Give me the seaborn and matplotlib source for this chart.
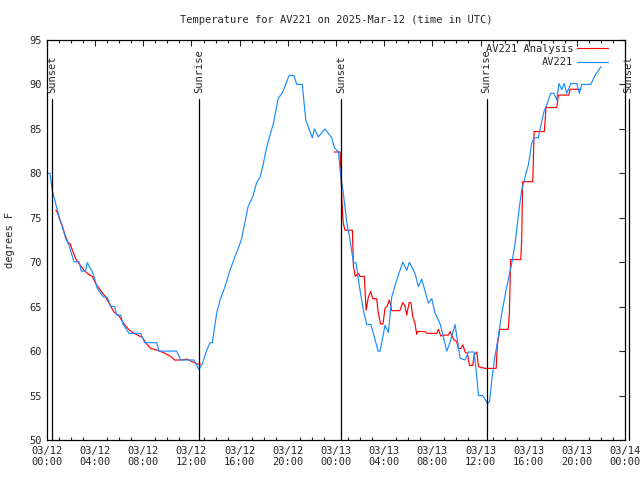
import matplotlib
matplotlib.use('Agg')
import matplotlib.pyplot as plt
import pandas as pd
import seaborn as sns

# hours since 2025-03-12 00:00 UTC
obs_hours = [0.0, 0.25, 0.44, 0.72, 1.08, 1.27, 1.55, 1.83, 2.24, 2.66, 2.85, 3.21, 3.35, 3.77, 3.9,
             4.18, 4.68, 5.0, 5.29, 5.62, 5.79, 6.12, 6.31, 6.81, 7.78, 8.11, 9.11, 9.3, 10.77, 11.1,
             12.2, 12.62, 12.9, 13.26, 13.54, 13.73, 14.09, 14.37, 14.78, 15.2, 15.6, 15.9, 16.17,
             16.7, 17.1, 17.4, 17.7, 17.97, 18.25, 18.8, 19.2, 19.6, 20.1, 20.5, 20.74, 21.2, 21.49,
             21.84, 22.04, 22.2, 22.53, 23.09, 23.64, 23.86, 24.2, 24.4, 24.6, 24.9, 25.17, 25.45,
             25.66, 25.99, 26.27, 26.55, 26.89, 27.1, 27.5, 27.66, 28.07, 28.35, 28.63, 29.04, 29.54,
             29.88, 30.09, 30.56, 30.84, 31.12, 31.67, 31.95, 32.23, 32.64, 33.2, 33.47, 33.89, 34.3,
             34.72, 35.0, 35.47, 35.69, 35.83, 36.19, 36.58, 36.75, 36.94, 37.2, 37.5, 37.76, 38.18,
             38.6, 38.87, 39.23, 39.42, 39.7, 39.98, 40.26, 40.45, 40.8, 41.08, 41.28, 41.5, 41.83,
             42.1, 42.33, 42.52, 42.75, 42.94, 43.16, 43.5, 43.99, 44.2, 44.4, 45.16, 45.5, 46.0]
obs_temp = [80.0, 80.0, 78.1, 76.6, 74.75, 74.0, 72.7, 71.9, 70.06, 70.06, 69.0, 69.0, 69.95, 68.9, 68.4,
            67.06, 66.1, 66.05, 65.07, 65.0, 64.06, 64.06, 63.05, 62.0, 62.0, 60.95, 60.95, 60.0, 60.0, 59.0,
            59.0, 57.95, 58.55, 60.1, 60.95, 60.95, 64.25, 65.75, 67.25, 69.1, 70.6, 71.6, 72.7,
            76.25, 77.4, 78.9, 79.6, 81.1, 83.0, 85.6, 88.4, 89.2, 91.0, 91.0, 90.0, 90.0, 86.0,
            84.7, 84.0, 85.0, 84.1, 85.0, 84.0, 82.9, 82.4, 79.6, 77.9, 74.4, 72.5, 69.9,
            69.95, 66.9, 64.6, 63.0, 63.0, 62.0, 60.0, 60.0, 62.9, 62.1, 66.1, 68.0, 70.0,
            69.1, 70.0, 68.75, 67.25, 68.1, 65.4, 65.9, 64.25, 63.1, 60.0, 61.0, 63.0, 59.2,
            59.0, 59.9, 59.9, 57.1, 55.0, 55.0, 54.1, 54.3, 56.8, 59.4, 61.8, 64.25, 67.25,
            69.9, 72.1, 76.25, 78.1, 79.6, 81.0, 83.4, 84.0, 84.0, 85.8, 87.0, 87.7, 89.0,
            89.0, 88.25, 90.1, 89.4, 90.1, 89.0, 90.1, 90.1, 89.0, 90.0, 90.0, 91.0, 92.0]

# analysis, first night
ana1_hours = [0.72, 0.8, 1.08, 1.27, 1.47, 1.74, 1.91, 2.1, 2.38, 2.8, 3.07, 3.49, 3.77, 4.04, 4.46,
              4.87, 5.15, 5.56, 5.98, 6.4, 6.81, 7.23, 7.92, 8.2, 8.61, 9.17, 9.72, 10.27, 10.6,
              11.1, 11.65, 12.07, 12.48, 12.76]
ana1_temp = [75.8, 75.8, 74.8, 74.1, 73.2, 72.2, 72.1, 71.4, 70.4, 69.6, 69.1, 68.6, 68.4, 67.6, 66.8,
             66.1, 65.4, 64.4, 63.95, 63.05, 62.4, 62.0, 61.55, 60.95, 60.3, 60.1, 59.8, 59.4, 59.0,
             59.0, 59.1, 58.8, 58.55, 58.55]
# analysis, second night and day
ana2_hours = [23.84, 24.34, 24.5, 24.6, 24.75, 25.36, 25.45, 25.6, 25.86, 26.0, 26.35, 26.5, 26.69,
              26.88, 27.05, 27.38, 27.5, 27.7, 27.9, 28.07, 28.26, 28.43, 28.63, 29.3, 29.54, 29.73,
              29.87, 30.07, 30.23, 30.37, 30.56, 30.7, 30.78, 31.4, 31.54, 32.37, 32.5, 32.7, 32.9,
              33.33, 33.47, 33.8, 34.03, 34.16, 34.35, 34.53, 34.72, 34.91, 35.08, 35.36, 35.47,
              35.69, 35.83, 36.38, 37.3, 37.4, 37.6, 38.3, 38.4, 38.5, 39.34, 39.42, 39.5, 40.34,
              40.45, 41.3, 41.44, 42.33, 42.47, 43.33, 43.44, 44.35]
ana2_temp = [82.4, 82.4, 76.8, 74.4, 73.6, 73.6, 69.5, 68.4, 68.75, 68.4, 68.4, 64.6, 66.1,
             66.7, 65.9, 65.9, 64.4, 63.05, 63.05, 64.8, 65.1, 65.75, 64.55, 64.55, 65.45, 65.07,
             64.06, 65.45, 65.45, 63.9, 63.1, 61.9, 62.2, 62.2, 62.0, 62.0, 62.45, 61.7, 61.8,
             61.8, 62.2, 61.25, 61.06, 60.3, 60.3, 60.7, 59.9, 59.75, 58.4, 58.4, 59.56,
             59.9, 58.25, 58.06, 58.06, 60.7, 62.45, 62.45, 64.4, 70.3, 70.3, 72.5, 79.06, 79.06,
             84.7, 84.7, 87.4, 87.4, 88.8, 88.8, 89.45, 89.45]

sunset_hours = [0.45, 24.4, 48.3]
sunrise_hours = [12.65, 36.5]

xtick_hours = [0, 4, 8, 12, 16, 20, 24, 28, 32, 36, 40, 44, 48]
xtick_labels = ['03/12\n00:00', '03/12\n04:00', '03/12\n08:00', '03/12\n12:00', '03/12\n16:00',
                '03/12\n20:00', '03/13\n00:00', '03/13\n04:00', '03/13\n08:00', '03/13\n12:00',
                '03/13\n16:00', '03/13\n20:00', '03/14\n00:00']
ytick_vals = [50, 55, 60, 65, 70, 75, 80, 85, 90, 95]

sns.set_style('white')
plt.rcParams['font.family'] = ['DejaVu Sans Mono']
fs = 7.5

obs = pd.DataFrame({'hour': obs_hours, 'temp': obs_temp})
ana = pd.DataFrame({'hour': ana1_hours + ana2_hours,
                    'temp': ana1_temp + ana2_temp,
                    'seg': [1] * len(ana1_hours) + [2] * len(ana2_hours)})

fig, ax = plt.subplots(figsize=(6.4, 4.8), dpi=100)
fig.subplots_adjust(left=0.0734, right=0.9766, bottom=0.0833, top=0.9167)

sns.lineplot(data=ana, x='hour', y='temp', units='seg', estimator=None, color='#ff0000',
             lw=0.85, label='AV221 Analysis', legend=False, ax=ax)
sns.lineplot(data=obs, x='hour', y='temp', color='#1a8cff', lw=0.85, label='AV221',
             legend=False, ax=ax)

# sunrise / sunset markers
for h in sunset_hours:
    ax.plot([h, h], [50, 88.4], color='black', lw=0.9, clip_on=False)
    ax.text(h, 89.0, 'Sunset', rotation=90, ha='center', va='bottom', fontsize=fs, clip_on=False)
for h in sunrise_hours:
    ax.plot([h, h], [50, 88.4], color='black', lw=0.9, clip_on=False)
    ax.text(h, 89.0, 'Sunrise', rotation=90, ha='center', va='bottom', fontsize=fs, clip_on=False)

ax.set_xlim(0, 48)
ax.set_ylim(50, 95)
ax.set_xticks(xtick_hours)
ax.set_xticklabels(xtick_labels, fontsize=fs)
ax.set_xticks(range(49), minor=True)
ax.set_yticks(ytick_vals)
ax.set_yticklabels([str(v) for v in ytick_vals], fontsize=fs)
ax.tick_params(which='major', direction='in', top=True, right=True, length=4, width=0.8, pad=4)
ax.tick_params(which='minor', direction='in', top=True, bottom=True, length=2.2, width=0.8)
for s in ax.spines.values():
    s.set_color('black')
    s.set_linewidth(0.9)

ax.set_xlabel('')
ax.set_ylabel('degrees F', fontsize=fs, labelpad=10)
ax.set_title('Temperature for AV221 on 2025-Mar-12 (time in UTC)', fontsize=fs, pad=12)

handles, labels = ax.get_legend_handles_labels()
seen = {}
for hd, lb in zip(handles, labels):
    if lb not in seen:
        seen[lb] = hd
ax.legend(list(seen.values()), list(seen.keys()), loc='upper right',
          bbox_to_anchor=(0.975, 0.995), frameon=False,
          markerfirst=False, fontsize=fs, handlelength=3, handletextpad=0.4,
          labelspacing=0.3, borderaxespad=0.0, borderpad=0.2)

fig.savefig('out.png', dpi=100)
